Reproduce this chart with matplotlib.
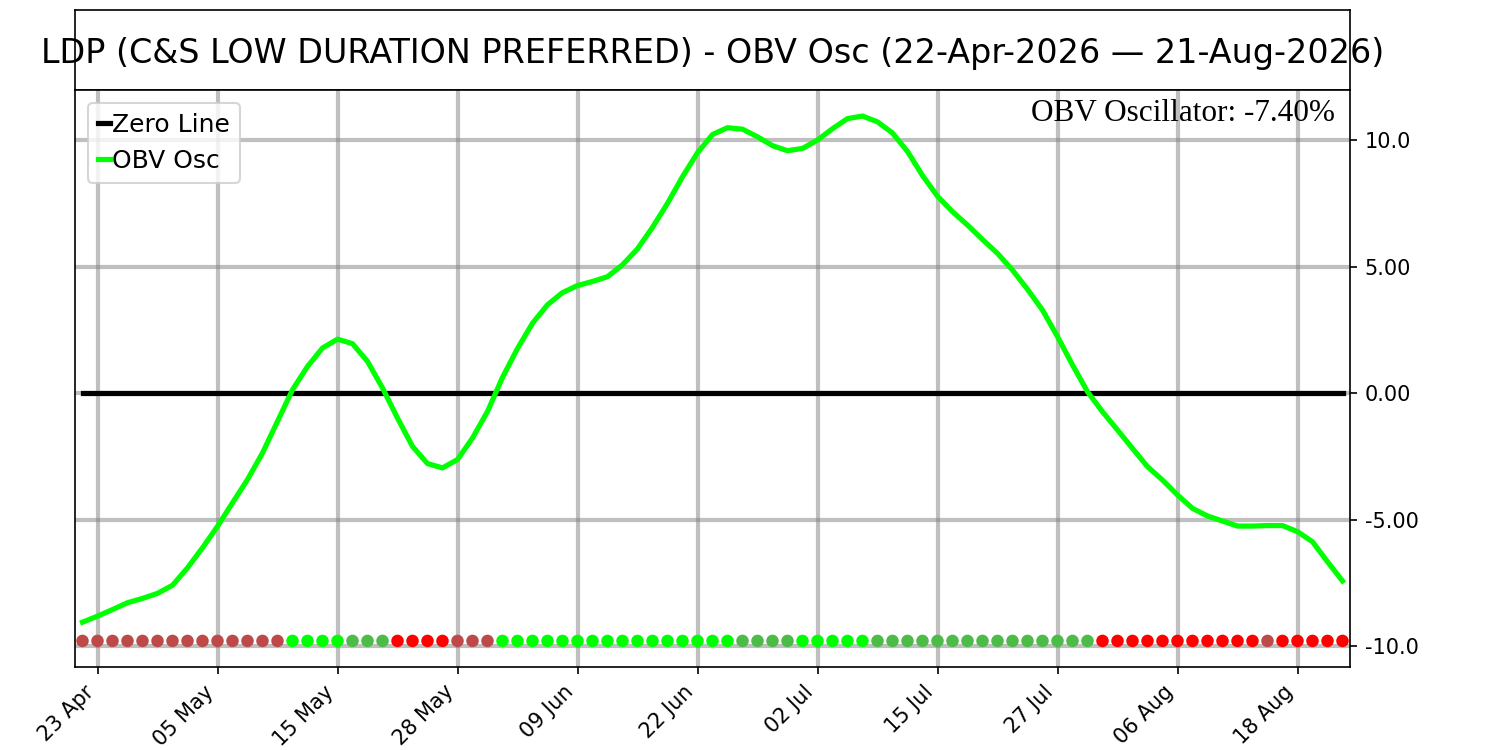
import numpy as np
import pandas as pd
import matplotlib
matplotlib.use("Agg")
import matplotlib.pyplot as plt

################################################
### data
holidays = ["2026-05-25", "2026-06-19", "2026-07-03"]
dates = pd.bdate_range("2026-04-22", "2026-08-21", freq="C", holidays=holidays)

obv_osc = [-9.06, -8.82, -8.56, -8.29, -8.12, -7.92, -7.60, -6.91, -6.12, -5.27,
           -4.34, -3.42, -2.37, -1.12, 0.13, 1.05, 1.78, 2.13, 1.95, 1.25,
           0.20, -0.99, -2.11, -2.79, -2.96, -2.63, -1.78, -0.73, 0.62, 1.76,
           2.76, 3.49, 3.97, 4.25, 4.41, 4.60, 5.07, 5.70, 6.55, 7.50,
           8.55, 9.50, 10.22, 10.49, 10.43, 10.13, 9.78, 9.58, 9.67, 10.00,
           10.45, 10.85, 10.95, 10.72, 10.28, 9.55, 8.60, 7.78, 7.17, 6.64,
           6.07, 5.52, 4.86, 4.10, 3.28, 2.23, 1.11, 0.05, -0.74, -1.46,
           -2.19, -2.91, -3.44, -4.03, -4.56, -4.86, -5.06, -5.26, -5.26, -5.24,
           -5.24, -5.48, -5.88, -6.67, -7.43]

# signal dot per day: L = lime, G = green, R = red, B = brown
signal = ("B" * 14 + "L" * 4 + "G" * 3 + "R" * 4 + "B" * 3 + "L" * 16 + "G" * 4
          + "L" * 5 + "G" * 15 + "R" * 11 + "B" + "R" * 5)
signal_colors = {"L": "#00ff00", "G": "#4cbb47", "R": "#ff0000", "B": "#bd4949"}
signal_level = -9.8

ytick_vals = [-10, -5, 0, 5, 10]
ytick_labels = ["-10.0", "-5.00", "0.00", "5.00", "10.0"]
last_value = -7.40
title = "LDP (C&S LOW DURATION PREFERRED) - OBV Osc (22-Apr-2026 \u2014 21-Aug-2026)"

################################################
idx = np.arange(len(dates))

fig = plt.figure(figsize=(10, 5), dpi=150)
ax_t = fig.add_axes([0.05, 0.88, 0.85, 0.1067])
ax_t.set_xticks([])
ax_t.set_yticks([])
ax_t.text(0.5, 0.46, title, ha="center", va="center", fontsize=16,
          transform=ax_t.transAxes)

ax = fig.add_axes([0.05, 0.1107, 0.85, 0.7693])
ax.plot(idx, np.zeros(len(idx)), color="black", linewidth=2.5, label="Zero Line")
ax.plot(idx, obv_osc, color="#00ff00", linewidth=2.5, label="OBV Osc")
ax.scatter(idx, [signal_level] * len(idx), c=[signal_colors[s] for s in signal],
           s=25, zorder=3)

ax.set_xlim(-0.5, len(idx) - 0.5)
ax.set_ylim(-10.83, 11.98)
tick_pos = idx[1::8]
ax.set_xticks(tick_pos)
ax.set_xticklabels([dates[i].strftime("%d %b") for i in tick_pos], rotation=45,
                   ha="right")
ax.yaxis.tick_right()
ax.set_yticks(ytick_vals)
ax.set_yticklabels(ytick_labels)
ax.grid(True, color="gray", alpha=0.5, linewidth=2)
ax.set_axisbelow(True)

ax.legend(loc="upper left", fontsize=12, handlelength=0.5, handletextpad=0.1,
          borderaxespad=0.5)
ax.text(0.988, 0.985, "OBV Oscillator: %.2f%%" % last_value, transform=ax.transAxes,
        ha="right", va="top", fontsize=15, family="Liberation Serif")

fig.savefig("out.png", dpi=150)
